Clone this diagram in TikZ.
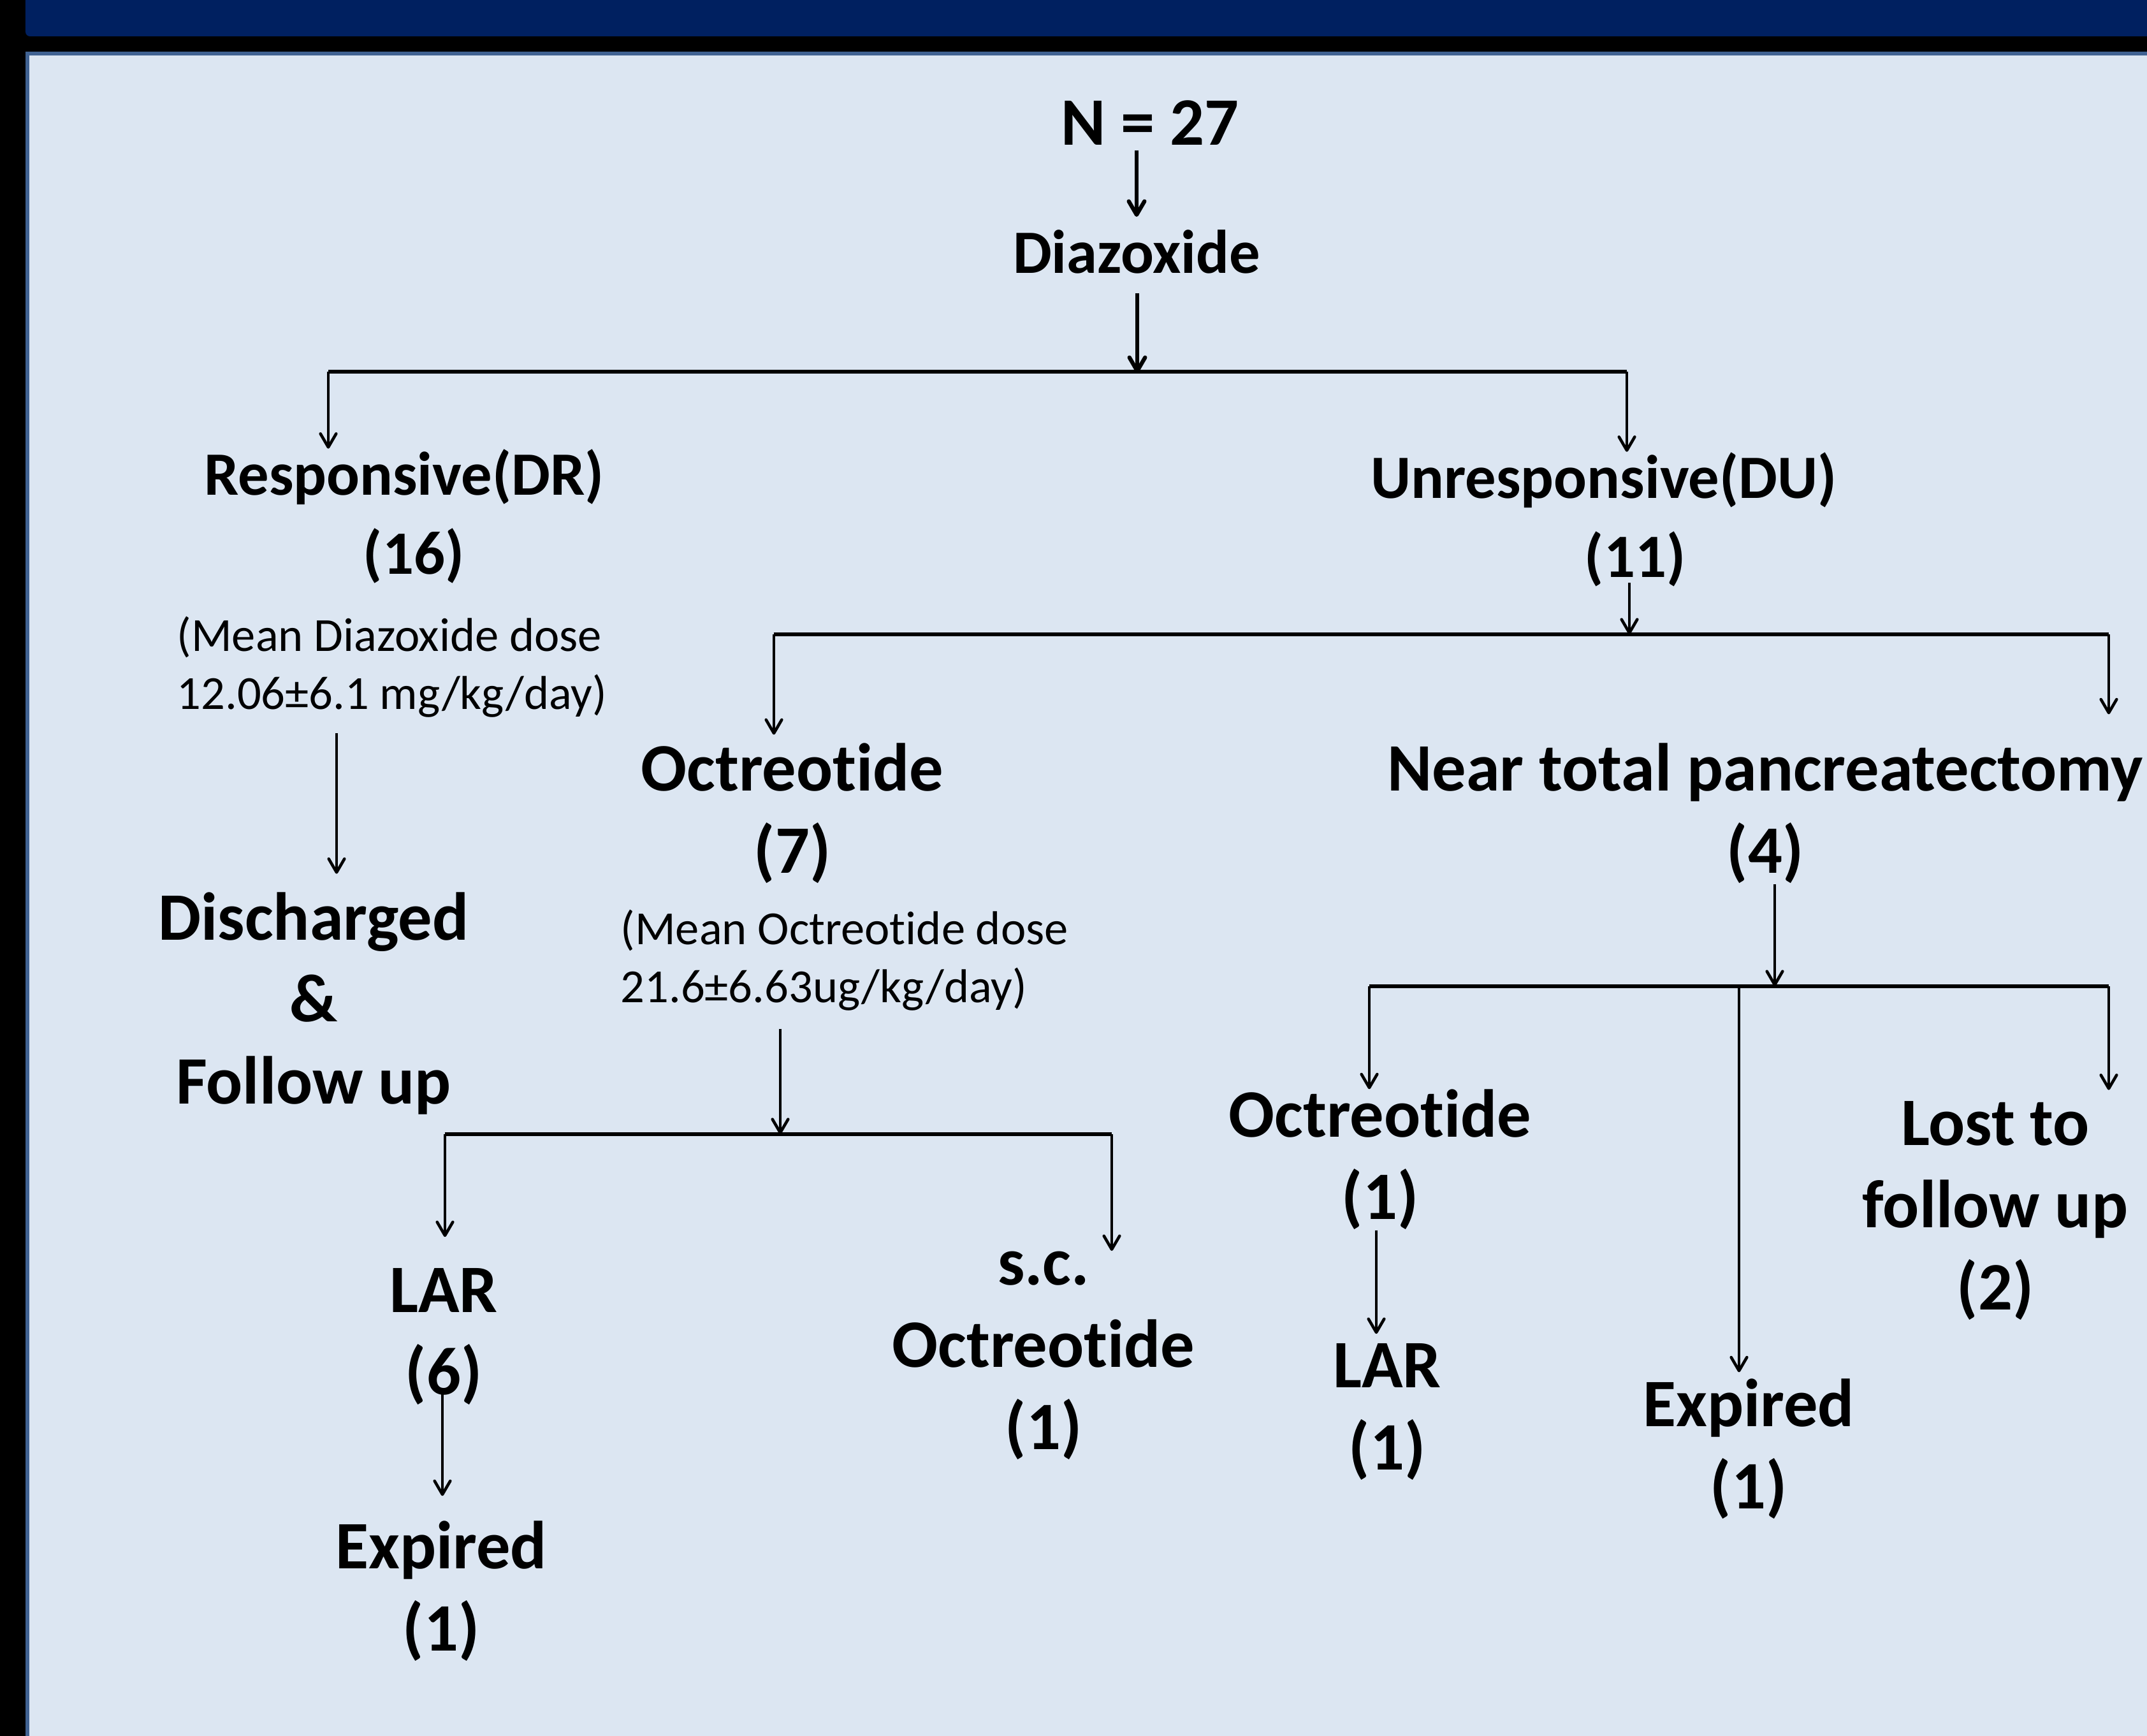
\documentclass[tikz,border=0pt]{standalone}
\usepackage{fontspec}
\setmainfont{Carlito}[Ligatures=NoCommon,Contextuals=NoAlternate]
\usepackage{xcolor}
\usetikzlibrary{arrows.meta}
\tikzset{>={Straight Barb[length=6pt,width=7pt,round]}}
\definecolor{slidenavy}{RGB}{0,32,96}
\definecolor{slideblue}{RGB}{220,230,242}
\definecolor{slideedge}{RGB}{64,98,146}
\newcommand{\bigtext}{\fontsize{30.3}{36.7}\selectfont\bfseries}
\newcommand{\midtext}{\fontsize{27.5}{35.5}\selectfont\bfseries}
\newcommand{\notetext}{\fontsize{21.2}{25.9}\selectfont}

\begin{document}
\begin{tikzpicture}[x=1cm,y=-1cm,
    big/.style={font=\bigtext,align=center,inner sep=0pt},
    mid/.style={font=\midtext,align=center,inner sep=0pt},
    note/.style={font=\notetext,align=left,inner sep=0pt,anchor=west},
    link/.style={->,line width=1.3pt},
    bar/.style={line width=1.8pt}]
    \useasboundingbox (0,0) rectangle (33.68,27.23);
    % slide background
    \fill[black] (0,0) rectangle (33.68,27.23);
    \fill[slidenavy,rounded corners=2pt] (0.40,-1) rectangle (34.5,0.57);
    \filldraw[fill=slideblue,draw=slideedge,line width=0.06cm] (0.425,0.84) rectangle (34.5,28);

    \node[big] (n27) at (18.04,1.93) {N = 27};
    \node[mid] (diaz) at (17.83,3.95) {Diazoxide};
    \node[mid] (resp) at (6.49,8.10) {Responsive(DR)\hspace*{0.3cm}\\(16)};
    \node[note] (dosedr) at (2.77,10.46) {(Mean Diazoxide dose\\12.06±6.1 mg/kg/day)};
    \node[big] (disch) at (4.92,15.74) {Discharged\\\&\\Follow up};
    \node[mid] (unresp) at (25.65,8.15) {Unresponsive(DU)\hspace*{0.98cm}\\(11)};
    \node[big] (octr) at (12.43,12.76) {Octreotide\\(7)};
    \node[big] (ntp) at (27.69,12.76) {Near total pancreatectomy\\(4)};
    \node[note] (doseoc) at (9.73,15.06) {(Mean Octreotide dose\\21.6±6.63ug/kg/day)};
    \node[big] (lar) at (6.96,20.97) {LAR\\(6)};
    \node[big] (exp1) at (6.92,24.96) {Expired\\(1)};
    \node[big] (scoct) at (16.37,21.26) {s.c.\\Octreotide\\(1)};
    \node[big] (octr1) at (21.65,18.19) {Octreotide\\(1)};
    \node[big] (lar1) at (21.76,22.15) {LAR\\(1)};
    \node[big] (exp2) at (27.43,22.73) {Expired\\(1)};
    \node[big] (lost) at (31.30,18.99) {Lost to\\follow up\\(2)};

    % branch points
    \coordinate (b1) at (17.84,5.85);
    \coordinate (b1l) at (5.15,5.83);
    \coordinate (b1r) at (25.52,5.83);
    \coordinate (b2) at (25.56,9.95);
    \coordinate (b2l) at (12.14,9.95);
    \coordinate (b2r) at (33.08,9.95);
    \coordinate (b3) at (12.24,17.79);
    \coordinate (b3l) at (6.98,17.79);
    \coordinate (b3r) at (17.44,17.79);
    \coordinate (b4) at (27.84,15.47);
    \coordinate (b4l) at (21.48,15.47);
    \coordinate (b4m) at (27.28,15.47);
    \coordinate (b4r) at (33.08,15.47);

    \draw[link,line width=1.8pt,shorten <=0.07cm,shorten >=0.2cm] (n27.south -| diaz.north) -- (diaz.north);
    \draw[link,line width=1.8pt,shorten <=0.3cm] (diaz.south -| b1) -- (b1);
    \draw[bar] (b1l) -- (b1r);
    \draw[link] (b1l) -- (b1l |- resp.north);
    \draw[link] (b1r) -- (b1r |- unresp.north);
    \draw[link,shorten <=0.24cm,shorten >=0.28cm] (5.28,0 |- dosedr.south) -- (5.28,0 |- disch.north);

    \draw[link,shorten <=-0.07cm] (unresp.south -| b2) -- (b2);
    \draw[bar] (b2l) -- (b2r);
    \draw[link,shorten >=0.13cm] (b2l) -- (b2l |- octr.north);
    \draw[link,shorten >=0.45cm] (b2r) -- (b2r |- ntp.north);

    \draw[link,shorten <=0.28cm] (doseoc.south -| b3) -- (b3);
    \draw[bar] (b3l) -- (b3r);
    \draw[link,shorten >=0.49cm] (b3l) -- (b3l |- lar.north);
    \draw[link] (b3r) -- (b3r |- scoct.north);
    \draw[link,shorten <=-0.18cm,shorten >=0.39cm] (lar.south -| 6.94,0) -- (6.94,0 |- exp1.north);

    \draw[link] (ntp.south -| b4) -- (b4);
    \draw[bar] (b4l) -- (b4r);
    \draw[link] (b4l) -- (b4l |- octr1.north);
    \draw[link,shorten >=0.1cm] (b4m) -- (b4m |- exp2.north);
    \draw[link,shorten >=0.17cm] (b4r) -- (b4r |- lost.north);
    \draw[link,shorten >=0.15cm] (octr1.south -| 21.59,0) -- (21.59,0 |- lar1.north);
\end{tikzpicture}
\end{document}
